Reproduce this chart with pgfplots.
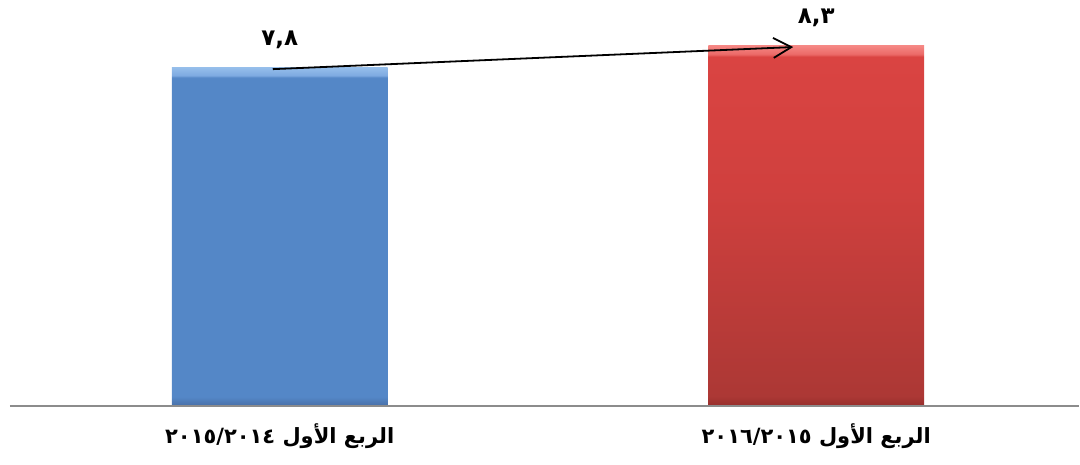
\documentclass[border=0pt]{standalone}
\usepackage{fontspec}
\usepackage{pgfplots}
\pgfplotsset{compat=1.18}
\usetikzlibrary{arrows.meta}
\TeXXeTstate=1
\newfontfamily\arabicfont[Script=Arabic]{DejaVu Sans}
\definecolor{blueDark}{RGB}{72,112,168}
\definecolor{blueBase}{RGB}{84,135,199}
\definecolor{blueLight}{RGB}{125,170,225}
\definecolor{blueTop}{RGB}{150,190,235}
\definecolor{redDark}{RGB}{150,46,44}
\definecolor{redBot}{RGB}{172,56,53}
\definecolor{redMid}{RGB}{208,64,62}
\definecolor{redTopB}{RGB}{218,68,66}
\definecolor{redLight}{RGB}{235,105,103}
\definecolor{redTop}{RGB}{245,135,132}
\definecolor{baseGray}{RGB}{140,140,140}
\pgfdeclareverticalshading{bluebar}{100bp}{color(0bp)=(blueDark); color(25bp)=(blueDark); color(26.3bp)=(blueBase); color(73.5bp)=(blueBase); color(73.8bp)=(blueLight); color(75bp)=(blueTop); color(100bp)=(blueTop)}
\pgfdeclareverticalshading{redbar}{100bp}{color(0bp)=(redDark); color(25bp)=(redDark); color(26.3bp)=(redBot); color(55bp)=(redMid); color(73.5bp)=(redTopB); color(73.8bp)=(redLight); color(75bp)=(redTop); color(100bp)=(redTop)}
\begin{document}
\begin{tikzpicture}
\begin{axis}[
  scale only axis,
  width=540pt, height=232.5pt,
  xmin=-0.5214, xmax=1.4898,
  ymin=-1.36, ymax=9.355,
  axis line style={draw=none},
  ytick=\empty,
  xtick={0,1},
  xticklabels={
    {\beginR الربع الأول \beginL٢٠١٥/٢٠١٤\endL\endR},
    {\beginR الربع الأول \beginL٢٠١٦/٢٠١٥\endL\endR}},
  major tick length=0pt,
  xtick style={draw=none},
  xticklabel style={anchor=center, yshift=14pt, font=\arabicfont\bfseries\fontsize{10.5}{13}\selectfont},
  clip=false,
  ybar, bar width=108pt, bar shift=0pt,
  nodes near coords,
  point meta=explicit symbolic,
  nodes near coords style={anchor=center, yshift=14pt, font=\arabicfont\bfseries\fontsize{11.5}{14}\selectfont},
]
\addplot[draw=none, shading=bluebar] coordinates {(0,7.8) [٧,٨]};
\addplot[draw=none, shading=redbar] coordinates {(1,8.3) [٨,٣]};
\draw[baseGray, line width=1pt] (axis cs:-0.503,0) -- (axis cs:1.4898,0);
\draw[-{Straight Barb[length=9pt,width=10pt]}, line width=0.9pt] (axis cs:-0.013,7.76) -- (axis cs:0.957,8.27);
\end{axis}
\end{tikzpicture}
\end{document}
